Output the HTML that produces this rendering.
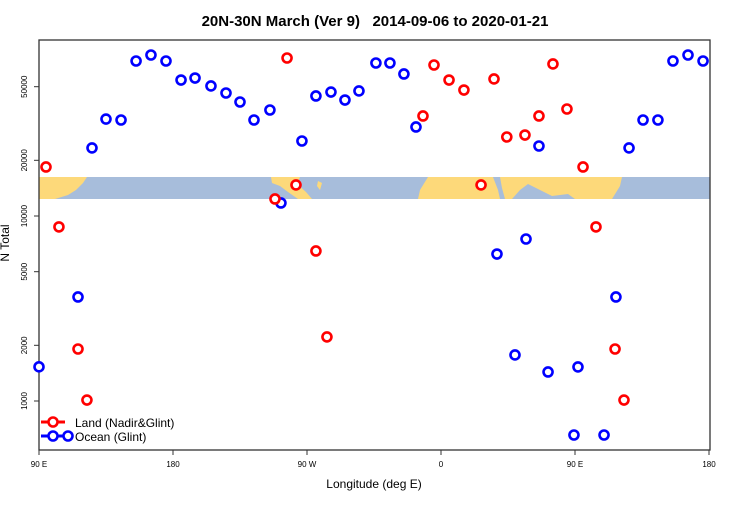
<!DOCTYPE html>
<html><head><meta charset="utf-8"><style>
body{margin:0;background:#fff}
svg text{font-family:"Liberation Sans",sans-serif}
</style></head><body>
<svg id="c" width="750" height="500" viewBox="0 0 750 500" xmlns="http://www.w3.org/2000/svg">
<text x="375" y="26" text-anchor="middle" font-size="15" font-weight="bold" fill="#000" style="white-space:pre" xml:space="preserve">20N-30N March (Ver 9)   2014-09-06 to 2020-01-21</text>
<g>
<rect x="39" y="177" width="671" height="22" fill="#a7bddb"/>
<path d="M39,177 L87,177 L83,183 L76,190 L68,195 L55,199 L39,199Z" fill="#fdd97a"/>
<path d="M271,177 L300,177 L297,184 L306,192 L312,199 L298,199 L288,192 L280,186 L272,183Z" fill="#fdd97a"/>
<path d="M318,181 L322,183 L320,190 L317,186Z" fill="#fdd97a"/>
<path d="M428,177 L493,177 L498,190 L500,199 L418,199 L420,190Z" fill="#fdd97a"/>
<path d="M500,177 L622,177 L620,186 L612,199 L575,199 L568,194 L552,196 L540,190 L528,184 L520,190 L512,199 L505,199 L502,188Z" fill="#fdd97a"/>
</g>
<rect x="39" y="40" width="671" height="410" fill="none" stroke="#333" stroke-width="1.3"/>
<g id="yax"></g>
<g id="xax"></g>
<text transform="translate(9,243) rotate(-90)" text-anchor="middle" font-size="12">N Total</text>
<text x="374" y="488" text-anchor="middle" font-size="12">Longitude (deg E)</text>
<g id="pts"></g>
<g>
<g>
<line x1="41" y1="422" x2="65" y2="422" stroke="red" stroke-width="3"/>
<circle cx="53" cy="422" r="4.5" fill="#fff" stroke="red" stroke-width="2.6"/>
<text x="75" y="427" font-size="12">Land (Nadir&amp;Glint)</text></g>
<g>
<line x1="41" y1="436" x2="68" y2="436" stroke="blue" stroke-width="3"/>
<circle cx="53" cy="436" r="4.5" fill="#fff" stroke="blue" stroke-width="2.6"/>
<circle cx="68" cy="436" r="4.5" fill="#fff" stroke="blue" stroke-width="2.6"/>
<text x="75" y="441" font-size="12">Ocean (Glint)</text></g>
</g>
</svg>
<script>
const oceanLon=[90,116.2,125.6,135,145.1,155.2,165.2,175.3,185.4,194.8,205.5,215.6,225,234.4,245.1,252.5,266.6,276,286.1,295.5,304.9,316.3,325.7,335.1,343.2,397.6,409.7,417.1,425.8,431.9,449.3,452,469.5,477.5,486.3,495.7,505.7,515.8,525.9,536];
const oceanN=[1530,3650,23330,33420,33030,68850,74180,68850,54330,55700,50460,46230,41320,33030,37410,11760,25430,44540,46780,42360,47420,67140,67140,58580,30280,6230,1774,7510,23900,1435,655,1528,655,3650,23330,33030,33030,68850,74180,68850];
const landLon=[94.7,103.4,116.2,122.2,248.5,256.6,262.6,276,283.4,347.9,355.3,365.4,375.4,386.9,395.6,404.2,416.4,425.8,435.2,444.6,455.4,464.1,476.9,482.9];
const landN=[18410,8730,1910,1012,12360,71450,14720,6470,2220,34730,65500,54330,47970,14720,55050,26730,27400,34730,66360,37880,18410,8730,1910,1012];
const yTicks=[1000,2000,5000,10000,20000,50000];
const xTicks=[90,180,270,360,450,540];
const xTickLabels=["90 E","180","90 W","0","90 E","180"];
const NS="http://www.w3.org/2000/svg";
function xs(lon){return 39+(lon-90)*(670/450);}
function ys(v){return 216-185*Math.log10(v/10000);}
function mk(t,a,p){const e=document.createElementNS(NS,t);for(const k in a)e.setAttribute(k,a[k]);p.appendChild(e);return e;}
const yax=document.getElementById('yax');
yTicks.forEach(v=>{const y=ys(v);
 const l=mk('line',{x1:34,x2:39,y1:y,y2:y,stroke:'#333'},yax);
 
 
 const t=mk('text',{transform:`translate(27,${y}) rotate(-90)`,'text-anchor':'middle','font-size':8},yax);
 t.textContent=v;
 
 
});
const xax=document.getElementById('xax');
xTicks.forEach((v,i)=>{const x=xs(v);
 const l=mk('line',{x1:x,x2:x,y1:450,y2:455,stroke:'#333'},xax);
 
 
 const t=mk('text',{x:x,y:467,'text-anchor':'middle','font-size':8},xax);
 t.textContent=xTickLabels[i];
 
 
});
const pts=document.getElementById('pts');
oceanLon.forEach((lon,i)=>{
 const c=mk('circle',{cx:xs(lon),cy:ys(oceanN[i]),r:4.5,fill:'#fff',stroke:'blue','stroke-width':2.6},pts);
 
 
});
landLon.forEach((lon,i)=>{
 const c=mk('circle',{cx:xs(lon),cy:ys(landN[i]),r:4.5,fill:'#fff',stroke:'red','stroke-width':2.6},pts);
 
 
});
</script>
</body></html>
